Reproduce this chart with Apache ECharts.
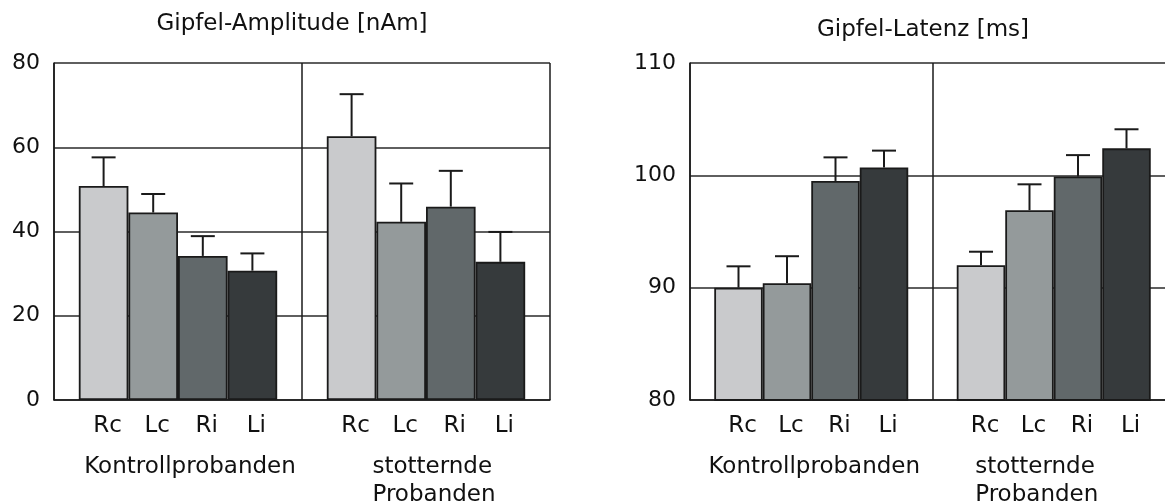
<!DOCTYPE html>
<html>
<head>
<meta charset="utf-8">
<script src="https://cdn.jsdelivr.net/npm/echarts@6/dist/echarts.min.js"></script>
<style>
  html, body { margin: 0; padding: 0; background: #fff; }
  #chart { width: 1165px; height: 503px; }
</style>
</head>
<body>
<div id="chart"></div>
<script>
// Conditions (hemisphere × ear) and subject groups
const conditions = ['Rc', 'Lc', 'Ri', 'Li'];
const groups = ['Kontrollprobanden', 'stotternde\nProbanden'];

// Peak amplitude [nAm]: means and upper error per condition
const ampControl = [50.8, 44.5, 34.2, 30.7];
const ampControlErr = [6.8, 4.4, 4.7, 4.1];
const ampStutter = [62.6, 42.3, 45.9, 32.8];
const ampStutterErr = [10.0, 9.1, 8.5, 7.1];

// Peak latency [ms]: means and upper error per condition
const latControl = [90.0, 90.4, 99.5, 100.7];
const latControlErr = [1.9, 2.4, 2.1, 1.5];
const latStutter = [92.0, 96.9, 99.9, 102.4];
const latStutterErr = [1.2, 2.3, 1.9, 1.7];

// Axis ticks
const ampTicks = [0, 20, 40, 60, 80];
const latTicks = [80, 90, 100, 110];

const titles = ['Gipfel-Amplitude [nAm]', 'Gipfel-Latenz [ms]'];

const barColors = ['#c9cacc', '#949a9b', '#61686a', '#363a3c'];
const ink = '#1a1a1a';
const font = 'DejaVu Sans';

// Slot axis: one slot per bar centre, plus empty slots at the group edges
const slots = ['', ...conditions, '', ...conditions, ''];

function barSeries(gridIdx, ctrl, stut) {
  return conditions.map((c, i) => ({
    name: c,
    type: 'bar',
    xAxisIndex: gridIdx * 2,
    yAxisIndex: gridIdx,
    barGap: '0%',
    barCategoryGap: '20%',
    data: [ctrl[i], stut[i]],
    itemStyle: { color: barColors[i], borderColor: ink, borderWidth: 1.8 },
    emphasis: { disabled: true },
    silent: true,
    z: 3
  }));
}

function errorSeries(gridIdx, ctrl, ctrlErr, stut, stutErr) {
  const data = [];
  conditions.forEach((c, i) => {
    data.push([1 + i, ctrl[i] + ctrlErr[i], ctrl[i]]);
    data.push([6 + i, stut[i] + stutErr[i], stut[i]]);
  });
  return {
    type: 'custom',
    xAxisIndex: gridIdx * 2 + 1,
    yAxisIndex: gridIdx,
    silent: true,
    z: 4,
    data: data,
    renderItem(params, api) {
      const top = api.coord([api.value(0), api.value(1)]);
      const base = api.coord([api.value(0), api.value(2)]);
      const half = 12;
      const st = { stroke: ink, lineWidth: 2 };
      return {
        type: 'group',
        children: [
          { type: 'line', shape: { x1: base[0], y1: base[1], x2: top[0], y2: top[1] }, style: st },
          { type: 'line', shape: { x1: top[0] - half, y1: top[1], x2: top[0] + half, y2: top[1] }, style: st }
        ]
      };
    }
  };
}

// padA / padB nudge the two group captions sideways
function groupAxis(gridIdx, padA, padB) {
  return {
    type: 'category',
    gridIndex: gridIdx,
    position: 'bottom',
    data: groups,
    boundaryGap: true,
    axisLine: { show: true, lineStyle: { color: ink, width: 1.5 } },
    axisTick: { show: false },
    splitLine: { show: true, interval: 0, lineStyle: { color: ink, width: 1.5 } },
    axisLabel: {
      interval: 0,
      margin: 53,
      color: '#111',
      fontFamily: font,
      fontSize: 23,
      lineHeight: 28,
      formatter: (v, idx) => idx === 0
        ? '{a|' + v + '}'
        : v.split('\n').map(s => '{b|' + s + '}').join('\n'),
      rich: {
        a: { fontFamily: font, fontSize: 23, lineHeight: 28, color: '#111', padding: padA },
        b: { fontFamily: font, fontSize: 23, lineHeight: 28, color: '#111', align: 'left', padding: padB }
      }
    }
  };
}

function slotAxis(gridIdx) {
  return {
    type: 'category',
    gridIndex: gridIdx,
    position: 'bottom',
    data: slots,
    boundaryGap: false,
    axisLine: { show: false },
    axisTick: { show: false },
    splitLine: { show: false },
    axisLabel: {
      interval: 0,
      margin: 12,
      color: '#111',
      fontFamily: font,
      fontSize: 23,
      lineHeight: 28,
      padding: [0, 0, 0, 8]
    }
  };
}

function valueAxis(gridIdx, ticks) {
  return {
    type: 'value',
    gridIndex: gridIdx,
    min: ticks[0],
    max: ticks[ticks.length - 1],
    interval: ticks[1] - ticks[0],
    axisLine: { show: true, lineStyle: { color: ink, width: 1.5 } },
    axisTick: { show: false },
    splitLine: { show: true, lineStyle: { color: '#2a2a2a', width: 1.5 } },
    axisLabel: { color: '#111', fontFamily: font, fontSize: 22, margin: 14 }
  };
}

const chart = echarts.init(document.getElementById('chart'), null, { renderer: 'canvas' });

chart.setOption({
  backgroundColor: '#fff',
  animation: false,
  title: [
    { text: titles[0], left: 287, top: 8, textAlign: 'center',
      textStyle: { fontFamily: font, fontSize: 23, fontWeight: 'normal', color: '#111' } },
    { text: titles[1], left: 918, top: 14, textAlign: 'center',
      textStyle: { fontFamily: font, fontSize: 23, fontWeight: 'normal', color: '#111' } }
  ],
  // the right panel runs past the canvas edge, so the grids keep their fixed boxes
  grid: [
    { left: 54, top: 63, width: 496, height: 337, outerBoundsMode: 'none' },
    { left: 690, top: 63, width: 485, height: 337, outerBoundsMode: 'none' }
  ],
  xAxis: [
    groupAxis(0, [0, 0, 0, 24], [0, 0, 0, 16]),
    slotAxis(0),
    groupAxis(1, [0, 0, 0, 6], [0, 34, 0, 0]),
    slotAxis(1)
  ],
  yAxis: [valueAxis(0, ampTicks), valueAxis(1, latTicks)],
  series: [
    ...barSeries(0, ampControl, ampStutter),
    errorSeries(0, ampControl, ampControlErr, ampStutter, ampStutterErr),
    ...barSeries(1, latControl, latStutter),
    errorSeries(1, latControl, latControlErr, latStutter, latStutterErr)
  ]
});
</script>
</body>
</html>
